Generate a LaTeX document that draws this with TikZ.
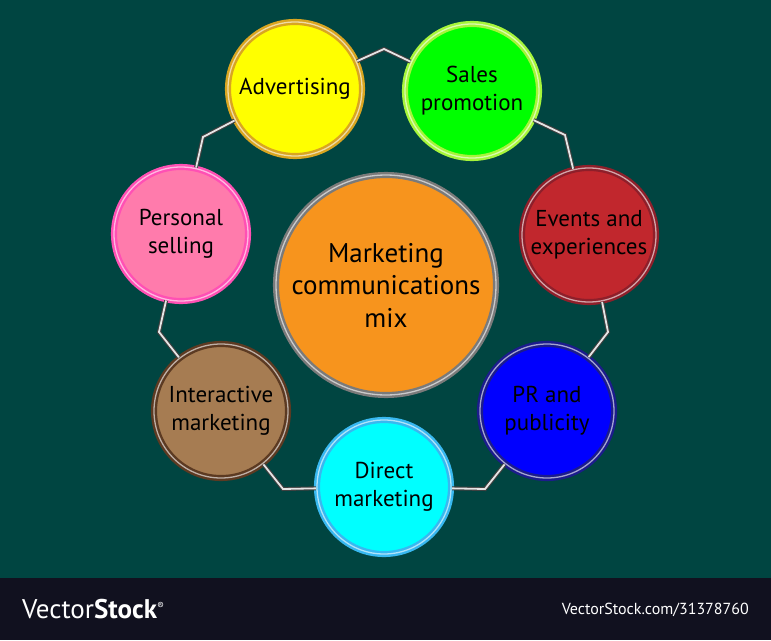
\documentclass[tikz,border=0pt]{standalone}
\usepackage{fontspec}
\setmainfont{PT Sans}
\usepackage{tikz}

\definecolor{bgteal}{RGB}{0,69,65}
\definecolor{stripnavy}{RGB}{17,17,31}
\definecolor{advfill}{RGB}{255,255,0}
\definecolor{advring}{RGB}{217,165,32}
\definecolor{salesfill}{RGB}{0,255,0}
\definecolor{salesring}{RGB}{166,245,58}
\definecolor{eventsfill}{RGB}{193,39,45}
\definecolor{eventsring}{RGB}{142,31,42}
\definecolor{prfill}{RGB}{0,0,255}
\definecolor{prring}{RGB}{28,28,140}
\definecolor{directfill}{RGB}{0,255,255}
\definecolor{directring}{RGB}{56,184,240}
\definecolor{interfill}{RGB}{166,124,82}
\definecolor{interring}{RGB}{92,58,34}
\definecolor{persfill}{RGB}{255,123,172}
\definecolor{persring}{RGB}{255,80,180}
\definecolor{mixfill}{RGB}{247,148,29}
\definecolor{mixring}{RGB}{122,122,122}

\tikzset{
  disc/.style 2 args={circle, fill=#1, draw=#2, double=white!60!#2,
    line width=2.4pt, double distance=1.3pt, minimum size=134pt,
    inner sep=0pt, align=center, text=black,
    font=\fontsize{23}{28}\selectfont},
  chain/.style={draw=gray!50!black, double=gray!20!white,
    line width=1.1pt, double distance=1.8pt, line join=miter}
}

\begin{document}
\begin{tikzpicture}[x=1pt, y=-1pt]
\fill[bgteal] (0,0) rectangle (771,578);
\fill[stripnavy] (0,578) rectangle (771,640);

% bends of the ring
\coordinate (k1) at (384,49);
\coordinate (k2) at (565,135);
\coordinate (k3) at (608,332);
\coordinate (k4) at (485,489);
\coordinate (k5) at (283,489);
\coordinate (k6) at (159,332);
\coordinate (k7) at (203,137);

\node[disc={mixfill}{mixring}, minimum size=220pt,
  font=\fontsize{27}{32.5}\selectfont] (mix) at (386,285)
  {Marketing\\communications\\mix};

\node[disc={advfill}{advring}] (adv) at (295,89) {Advertising};
\node[disc={salesfill}{salesring}] (sales) at (472,91) {Sales\\promotion};
\node[disc={eventsfill}{eventsring}] (events) at (589,235) {Events and\\experiences};
\node[disc={prfill}{prring}] (pr) at (547,411) {PR and\\publicity};
\node[disc={directfill}{directring}] (direct) at (384,487) {Direct\\marketing};
\node[disc={interfill}{interring}] (inter) at (221,411) {Interactive\\marketing};
\node[disc={persfill}{persring}] (pers) at (181,234) {Personal\\selling};

\draw[chain] (adv) -- (k1) -- (sales);
\draw[chain] (sales) -- (k2) -- (events);
\draw[chain] (events) -- (k3) -- (pr);
\draw[chain] (pr) -- (k4) -- (direct);
\draw[chain] (direct) -- (k5) -- (inter);
\draw[chain] (inter) -- (k6) -- (pers);
\draw[chain] (pers) -- (k7) -- (adv);

\node[anchor=west, text=white, font=\fontsize{27}{30}\selectfont, inner sep=0pt]
  (brand) at (22,609) {Vector\textbf{Stock}\textsuperscript{\fontsize{10}{10}\selectfont\textregistered}};
\node[anchor=east, text=white, font=\fontsize{16}{18}\selectfont, inner sep=0pt]
  (ref) at (749,610) {VectorStock.com/31378760};
\end{tikzpicture}
\end{document}
